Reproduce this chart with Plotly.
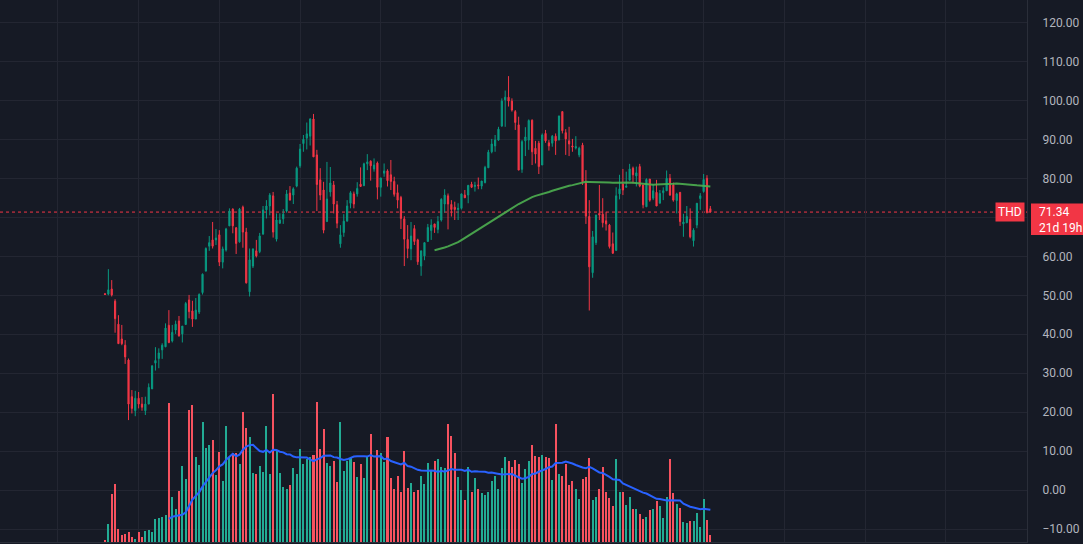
import plotly.graph_objects as go
import pandas as pd

# ---------------- data ----------------
open_ = [50.4, 50.3, 51.6, 48.5, 42.6, 38.8, 37.2, 33.4, 24.0, 20.4,
         23.6, 22.1, 20.4, 22.1, 26.0, 32.6, 33.8, 36.0, 36.8, 42.3,
         38.3, 41.1, 43.4, 40.1, 42.5, 48.8, 46.0, 43.9, 45.7, 50.7,
         56.2, 62.6, 64.2, 64.2, 65.5, 58.5, 61.6, 67.8, 72.1, 67.3,
         63.7, 72.6, 66.2, 50.9, 57.5, 61.4, 61.2, 65.7, 71.9, 72.9,
         75.5, 64.4, 68.5, 69.6, 71.6, 76.2, 75.7, 78.0, 83.2, 88.9,
         90.3, 90.8, 95.2, 86.0, 79.6, 77.0, 68.9, 76.5, 78.3, 73.2,
         63.2, 66.1, 69.0, 73.6, 76.0, 76.0, 78.5, 78.1, 83.7, 84.4,
         82.4, 83.9, 77.7, 81.3, 81.9, 80.9, 79.2, 76.3, 75.1, 69.6,
         64.3, 61.9, 67.1, 64.2, 57.5, 60.1, 63.8, 66.6, 68.3, 66.9,
         69.3, 73.4, 75.5, 73.3, 72.6, 72.0, 72.3, 75.7, 75.7, 78.5,
         77.9, 78.3, 78.0, 78.9, 82.7, 86.8, 88.3, 89.8, 93.4, 100.1,
         100.8, 99.8, 97.1, 93.7, 82.3, 89.6, 89.8, 94.9, 87.7, 89.0,
         83.4, 91.5, 89.1, 89.0, 90.8, 89.8, 97.1, 91.7, 89.6, 88.3,
         87.8, 86.0, 88.5, 78.7, 70.2, 55.8, 63.5, 71.0, 70.8, 69.1,
         68.0, 63.2, 61.5, 76.0, 78.5, 77.7, 79.5, 82.6, 80.6, 83.0,
         78.3, 72.7, 79.8, 74.9, 76.4, 73.6, 76.3, 76.8, 80.0, 78.3,
         74.3, 76.4, 68.3, 68.6, 69.5, 64.0, 68.0, 74.8, 76.6, 80.0,
         72.2]
high = [50.6, 56.7, 53.9, 49.0, 44.9, 42.4, 38.5, 33.8, 25.7, 25.5,
        25.2, 23.9, 24.0, 27.4, 32.1, 36.7, 36.4, 37.7, 42.8, 46.2,
        42.4, 43.5, 44.7, 42.1, 48.3, 50.1, 48.6, 49.3, 50.5, 55.6,
        62.3, 65.2, 68.8, 67.0, 66.7, 62.5, 67.3, 72.3, 72.3, 67.5,
        72.4, 73.0, 67.3, 62.0, 62.0, 64.2, 66.0, 72.9, 74.4, 76.2,
        76.5, 71.0, 71.0, 72.1, 77.0, 78.0, 77.7, 83.0, 88.8, 91.1,
        94.3, 95.4, 96.5, 87.3, 82.6, 79.1, 84.2, 82.9, 79.3, 74.2,
        68.0, 70.8, 74.4, 76.7, 76.6, 79.0, 82.8, 84.0, 86.2, 84.6,
        85.1, 84.3, 80.1, 83.8, 82.3, 84.7, 80.4, 78.4, 75.5, 70.3,
        68.0, 68.8, 68.0, 64.5, 61.4, 63.5, 68.3, 69.5, 68.3, 70.3,
        74.9, 77.2, 76.1, 74.4, 74.0, 73.6, 76.1, 77.0, 78.2, 79.1,
        79.1, 80.2, 79.3, 83.2, 87.3, 90.1, 91.1, 93.2, 100.5, 102.5,
        106.2, 100.5, 97.5, 95.8, 89.8, 93.1, 95.1, 95.1, 89.6, 89.6,
        91.5, 92.4, 89.8, 91.1, 91.5, 96.0, 97.1, 92.6, 93.2, 90.1,
        90.8, 88.1, 89.1, 82.1, 74.4, 66.5, 70.6, 78.3, 74.9, 71.4,
        68.3, 66.1, 77.7, 80.9, 82.4, 81.7, 83.7, 83.0, 83.0, 83.7,
        78.3, 80.0, 79.8, 78.3, 79.6, 77.0, 77.7, 82.0, 81.1, 78.9,
        76.3, 76.4, 70.9, 72.9, 72.3, 67.2, 73.6, 76.2, 81.1, 80.8,
        72.9]
low = [50.1, 50.0, 49.7, 40.4, 37.6, 37.2, 32.4, 18.0, 19.7, 19.0,
       21.0, 20.4, 19.3, 22.1, 26.0, 30.7, 31.3, 33.7, 36.7, 37.7,
       37.9, 40.1, 39.4, 37.9, 42.5, 44.1, 41.9, 43.9, 45.2, 50.2,
       56.1, 61.4, 62.0, 62.9, 57.5, 56.9, 61.2, 67.8, 65.9, 60.6,
       63.5, 62.2, 53.0, 49.7, 57.0, 59.7, 60.8, 65.5, 69.7, 70.5,
       64.8, 63.8, 68.3, 68.3, 71.2, 74.4, 73.4, 77.7, 82.7, 86.8,
       87.4, 88.4, 85.5, 71.6, 74.4, 65.9, 68.9, 75.3, 71.0, 67.2,
       62.2, 65.0, 69.0, 72.3, 72.3, 75.3, 77.9, 78.1, 82.1, 79.4,
       81.7, 74.6, 75.3, 80.4, 77.9, 77.0, 75.3, 72.3, 67.0, 57.5,
       59.5, 59.0, 62.9, 57.8, 55.0, 59.0, 63.8, 64.2, 66.0, 65.9,
       68.9, 71.2, 66.9, 70.2, 69.3, 69.3, 72.0, 75.0, 73.6, 77.5,
       76.6, 77.2, 77.2, 78.7, 82.7, 86.4, 86.8, 89.6, 93.2, 93.2,
       98.4, 97.1, 92.4, 82.1, 81.4, 85.7, 87.3, 83.4, 83.8, 81.1,
       83.4, 89.1, 87.1, 88.1, 86.0, 89.8, 91.5, 86.0, 85.7, 86.8,
       87.4, 85.4, 78.3, 68.3, 46.1, 54.5, 62.9, 69.3, 67.4, 66.6,
       62.0, 60.6, 61.5, 74.6, 75.7, 77.7, 79.5, 78.7, 77.9, 77.7,
       72.3, 72.7, 74.0, 74.4, 72.9, 73.6, 74.4, 76.8, 75.5, 74.0,
       71.0, 67.8, 65.0, 68.5, 64.6, 62.5, 67.2, 71.9, 76.3, 71.0,
       71.3]
close = [50.2, 51.4, 50.1, 44.0, 37.6, 37.6, 34.2, 22.1, 21.0, 23.6,
         22.1, 21.3, 22.1, 26.4, 31.9, 33.3, 35.2, 37.2, 41.6, 37.9,
         40.5, 42.6, 39.6, 42.1, 47.9, 45.8, 43.9, 46.2, 50.2, 55.4,
         62.0, 63.5, 62.6, 64.7, 58.5, 61.9, 67.0, 71.6, 67.8, 63.3,
         72.1, 66.2, 53.2, 59.1, 61.9, 60.1, 65.2, 71.9, 72.9, 75.7,
         66.2, 69.3, 69.3, 70.8, 76.0, 74.4, 77.3, 82.6, 87.5, 90.0,
         91.4, 95.2, 85.5, 78.4, 75.7, 66.7, 74.7, 78.8, 73.4, 68.5,
         65.5, 69.0, 72.9, 76.3, 73.4, 77.4, 77.9, 83.7, 84.2, 83.2,
         83.4, 77.7, 80.1, 81.9, 79.4, 79.2, 75.9, 74.4, 69.7, 64.4,
         62.0, 65.2, 63.8, 58.6, 61.4, 63.5, 67.4, 68.0, 67.4, 68.9,
         74.6, 75.7, 73.4, 72.0, 72.0, 72.3, 76.0, 75.0, 78.2, 77.7,
         78.2, 78.1, 79.3, 82.8, 86.7, 88.8, 89.8, 92.6, 99.8, 100.8,
         99.8, 97.5, 94.3, 82.1, 89.4, 90.6, 94.8, 86.8, 86.2, 83.0,
         91.1, 89.6, 88.3, 90.8, 89.6, 96.0, 92.2, 90.1, 88.8, 88.0,
         88.1, 87.7, 79.1, 70.3, 57.3, 65.0, 70.6, 70.6, 68.6, 68.3,
         62.5, 60.8, 75.5, 77.3, 77.0, 78.0, 82.4, 80.9, 81.4, 78.0,
         73.2, 79.7, 74.4, 76.8, 72.9, 76.1, 76.8, 80.0, 75.7, 74.4,
         76.0, 68.9, 68.8, 70.2, 65.0, 66.7, 73.6, 75.5, 79.7, 71.2,
         71.34]
volume = [1.3, 18.3, 48.3, 58.3, 13.3, 7.3, 8.3, 10.3, 5.3, 3.3,
          10.3, 5.3, 11.3, 12.3, 10.3, 23.3, 24.3, 25.3, 27.3, 139.3,
          45.3, 33.3, 51.3, 76.3, 63.3, 132.3, 137.3, 85.3, 77.3, 120.3,
          94.3, 97.3, 102.3, 67.3, 90.3, 61.3, 116.3, 85.3, 89.3, 89.3,
          78.3, 130.3, 114.3, 105.3, 69.3, 68.3, 76.3, 70.3, 116.3, 68.3,
          148.3, 91.3, 69.3, 55.3, 53.3, 57.3, 74.3, 68.3, 93.3, 78.3,
          83.3, 85.3, 87.3, 140.3, 93.3, 113.3, 79.3, 76.3, 81.3, 60.3,
          120.3, 71.3, 81.3, 84.3, 80.3, 65.3, 78.3, 64.3, 85.3, 108.3,
          52.3, 92.3, 89.3, 80.3, 105.3, 64.3, 53.3, 66.3, 50.3, 91.3,
          54.3, 59.3, 50.3, 52.3, 66.3, 58.3, 79.3, 71.3, 81.3, 83.3,
          75.3, 74.3, 118.3, 106.3, 89.3, 65.3, 52.3, 42.3, 75.3, 50.3,
          64.3, 53.3, 49.3, 47.3, 50.3, 61.3, 66.3, 53.3, 74.3, 85.3,
          81.3, 75.3, 82.3, 78.3, 59.3, 73.3, 81.3, 97.3, 86.3, 85.3,
          87.3, 85.3, 84.3, 62.3, 118.3, 68.3, 66.3, 78.3, 57.3, 61.3,
          53.3, 43.3, 63.3, 65.3, 84.3, 42.3, 45.3, 53.3, 75.3, 50.3,
          44.3, 36.3, 83.3, 50.3, 50.3, 37.3, 45.3, 33.3, 33.3, 28.3,
          23.3, 25.3, 32.3, 33.3, 41.3, 36.3, 24.3, 45.3, 83.3, 49.3,
          38.3, 34.3, 20.3, 19.3, 21.3, 21.3, 29.3, 15.3, 43.3, 22.3,
          7.3]
bar_index = list(range(len(close)))
ticker = "THD"
last_price = 71.34
countdown = "21d 19h"
price_ticks = [120, 110, 100, 90, 80, 70, 60, 50, 40, 30, 20, 10, 0, -10]

# ---------------- derived series ----------------
df = pd.DataFrame({"o": open_, "h": high, "l": low, "c": close, "v": volume}, index=bar_index)
price_ma = df["c"].rolling(99).mean()
vol_ma = df["v"].rolling(20).mean()

# ---------------- style ----------------
BG = "#161a25"
GRID = "#232632"
UP = "#089981"
DOWN = "#f23645"
VOL_UP = "#22ab94"
VOL_DOWN = "#f7525f"
TXT = "#b2b5be"
FONT = "Roboto, 'Liberation Sans', sans-serif"

W, H = 1083, 544
M_R, M_B = 56, 2
PLOT_W, PLOT_H = W - M_R, H - M_B
Y_RANGE = [-13.26, 125.72]

vol_colors = [VOL_UP if c >= o else VOL_DOWN for o, c in zip(open_, close)]

fig = go.Figure()

fig.add_trace(go.Bar(
    x=bar_index, y=volume, yaxis="y2",
    marker=dict(color=vol_colors, line=dict(width=0)),
    width=0.6, hoverinfo="skip", showlegend=False))
fig.add_trace(go.Scatter(
    x=bar_index, y=vol_ma, yaxis="y2", mode="lines",
    line=dict(color="#2962ff", width=2), hoverinfo="skip", showlegend=False))
fig.add_trace(go.Candlestick(
    x=bar_index, open=open_, high=high, low=low, close=close,
    increasing=dict(line=dict(color=UP, width=1), fillcolor=UP),
    decreasing=dict(line=dict(color=DOWN, width=1), fillcolor=DOWN),
    whiskerwidth=0, hoverinfo="skip", showlegend=False))
fig.add_trace(go.Scatter(
    x=bar_index, y=price_ma, mode="lines",
    line=dict(color="rgba(76,175,80,0.9)", width=2), hoverinfo="skip", showlegend=False))

# last price dotted line
fig.add_shape(type="line", xref="paper", x0=0, x1=1, yref="y", y0=last_price, y1=last_price,
              line=dict(color=DOWN, width=1, dash="dot"), layer="between")

# price box on the axis (paper coords derived from the axis range)
p_frac = (last_price - Y_RANGE[0]) / (Y_RANGE[1] - Y_RANGE[0])
fig.add_shape(type="rect", xref="paper", yref="paper",
              x0=1 + 4 / PLOT_W, x1=1 + M_R / PLOT_W,
              y0=p_frac - 23 / PLOT_H, y1=p_frac + 8.5 / PLOT_H,
              fillcolor=DOWN, line=dict(width=0), layer="above")

# ticker label
fig.add_annotation(xref="paper", x=1, xanchor="right", xshift=-2, yref="y", y=last_price,
                   yanchor="middle", text=ticker, showarrow=False,
                   font=dict(color="white", size=12, family=FONT), bgcolor=DOWN, borderpad=2)
# price + countdown text
fig.add_annotation(xref="paper", x=1, xanchor="left", xshift=11, yref="y", y=last_price,
                   yanchor="top", yshift=8, text=f"{last_price:.2f}<br>{countdown}", align="left",
                   showarrow=False, borderpad=0, font=dict(color="white", size=12, family=FONT))

fig.update_layout(
    width=W, height=H,
    margin=dict(l=0, r=M_R, t=0, b=M_B),
    paper_bgcolor=BG, plot_bgcolor=BG,
    font=dict(family=FONT, color=TXT, size=12),
    boxgap=0.5, bargap=0,
    showlegend=False,
    xaxis=dict(range=[-31.22, 274.16], showticklabels=False, tickmode="linear", tick0=10, dtick=24,
               showgrid=True, gridcolor=GRID, gridwidth=1, zeroline=False,
               showline=True, linecolor="#2a2e39", mirror=False,
               rangeslider=dict(visible=False), fixedrange=True),
    yaxis=dict(range=Y_RANGE, side="right", tickvals=price_ticks, tickformat=".2f",
               showgrid=True, gridcolor=GRID, gridwidth=1, zeroline=False,
               showline=True, linecolor="#2a2e39", ticks="", ticklabelstandoff=12,
               tickfont=dict(color=TXT, size=12, family=FONT)),
    yaxis2=dict(overlaying="y", range=[0, 542], visible=False, showgrid=False, zeroline=False),
)

fig.write_html(
    "out.html",
    config={"displayModeBar": False},
    post_script="document.body.style.margin='0';document.body.style.overflow='hidden';"
                "document.body.style.background='#161a25';",
)
